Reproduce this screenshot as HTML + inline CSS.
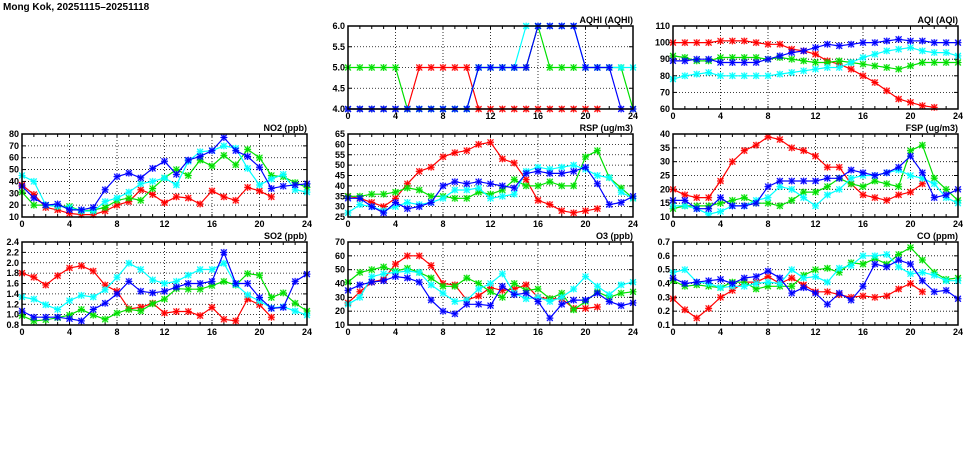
<!DOCTYPE html>
<html><head><meta charset="utf-8"><style>
body{margin:0;background:#fff;width:975px;height:447px;overflow:hidden}
svg text{font-family:"Liberation Sans",sans-serif;font-weight:bold;font-size:9px}
</style></head><body>
<svg id="c" width="975" height="447" xmlns="http://www.w3.org/2000/svg">
<text x="3" y="10" style="font-size:10px">Mong Kok, 20251115–20251118</text>
</svg>
<script>
const hours=[0,1,2,3,4,5,6,7,8,9,10,11,12,13,14,15,16,17,18,19,20,21,22,23,24];
const xTicks=[0,4,8,12,16,20,24];
const seriesColors=["#ff0000","#00e000","#00ffff","#0000ff"];
const seriesNames=["day1","day2","day3","day4"];
// AQHI
const aqhiRed=[4,4,4,4,4,4,5,5,5,5,5,4,4,4,4,4,4,4,4,4,4,4];
const aqhiGreen=[5,5,5,5,5,4,4,4,4,4,4,5,5,5,5,5,6,5,5,5,5,5,5,5,4];
const aqhiCyan=[4,4,4,4,4,4,4,4,4,4,4,5,5,5,5,6,6,6,6,6,5,5,5,5,5];
const aqhiBlue=[4,4,4,4,4,4,4,4,4,4,4,5,5,5,5,5,6,6,6,6,5,5,5,4,4];
const aqhiTicks=["4.0","4.5","5.0","5.5","6.0"];
// AQI
const aqiRed=[100,100,100,100,101,101,101,100,99,99,96,95,93,89,87,84,80,76,71,66,64,62,61];
const aqiGreen=[92,91,89,89,91,91,91,91,90,91,90,89,88,88,89,88,87,86,85,84,86,88,88,88,88];
const aqiCyan=[78,80,81,82,80,80,80,80,80,81,82,83,84,85,85,88,91,93,95,96,97,95,94,94,92];
const aqiBlue=[89,89,90,90,88,88,88,88,90,92,94,95,97,99,98,99,100,100,101,102,101,101,100,100,100];
const aqiTicks=["60","70","80","90","100","110"];
// NO2
const no2Red=[37,29,18,16,13,12,12,15,20,23,33,29,22,27,26,21,32,27,24,35,32,27];
const no2Green=[31,20,20,19,19,15,16,18,24,26,24,34,43,50,45,58,53,62,54,67,60,45,44,39,35];
const no2Cyan=[45,40,20,19,18,15,15,23,26,31,38,40,43,37,57,65,66,70,68,51,37,42,46,33,31];
const no2Blue=[36,26,20,21,16,16,18,33,44,47,43,51,57,46,58,61,66,77,66,61,52,34,36,37,38];
const no2Ticks=["10","20","30","40","50","60","70","80"];
// RSP
const rspRed=[35,34,32,30,34,41,47,49,54,56,57,60,61,53,51,43,33,31,28,27,28,29];
const rspGreen=[35,35,36,36,37,39,38,35,35,34,34,37,36,38,43,40,40,42,40,40,54,57,44,39,34];
const rspCyan=[27,31,30,28,30,32,31,32,34,38,38,39,34,35,36,47,49,48,49,50,48,45,44,37,34];
const rspBlue=[34,34,30,27,32,29,30,32,40,42,41,42,41,40,39,46,47,46,46,47,49,41,31,32,35];
const rspTicks=["25","30","35","40","45","50","55","60","65"];
// FSP
const fspRed=[20,18,17,17,23,30,34,36,39,38,35,34,32,28,28,22,18,17,16,18,19,22];
const fspGreen=[13,14,14,14,15,16,17,15,15,14,16,19,19,21,24,22,21,23,22,21,34,36,24,20,16];
const fspCyan=[14,14,13,11,12,14,14,16,17,21,20,17,14,18,20,24,25,25,26,27,25,24,22,17,15];
const fspBlue=[16,16,13,13,17,14,14,15,21,23,23,23,23,24,24,27,26,25,26,28,32,26,17,18,20];
const fspTicks=["10","15","20","25","30","35","40"];
// SO2
const so2Red=[1.8,1.72,1.57,1.75,1.9,1.94,1.84,1.57,1.45,1.11,1.14,1.22,1.03,1.06,1.06,0.98,1.14,0.91,0.88,1.3,1.19,0.95];
const so2Green=[0.98,0.88,0.9,0.94,0.99,1.1,0.99,0.91,1.03,1.1,1.07,1.21,1.3,1.5,1.49,1.49,1.56,1.64,1.57,1.79,1.76,1.33,1.42,1.22,1.07];
const so2Cyan=[1.34,1.3,1.19,1.1,1.27,1.37,1.34,1.48,1.72,1.99,1.87,1.67,1.6,1.64,1.76,1.87,1.87,1.99,1.58,1.38,1.26,1.13,1.15,1.07,0.99];
const so2Blue=[1.07,0.95,0.95,0.95,0.92,0.88,1.1,1.22,1.4,1.64,1.45,1.42,1.45,1.53,1.6,1.6,1.64,2.2,1.6,1.6,1.33,1.12,1.14,1.64,1.78];
const so2Ticks=["0.8","1.0","1.2","1.4","1.6","1.8","2.0","2.2","2.4"];
// O3
const o3Red=[26,34,41,43,54,60,60,53,40,39,28,31,37,35,36,39,30,29,29,22,22,23];
const o3Green=[41,48,50,52,49,51,48,44,38,38,44,40,34,30,40,35,36,29,33,21,27,34,30,33,34];
const o3Cyan=[25,30,45,47,48,49,48,39,33,27,28,36,40,47,33,29,30,27,30,36,45,38,32,39,41];
const o3Blue=[35,39,41,42,45,44,41,28,20,18,25,25,24,38,32,33,27,15,25,28,28,33,27,24,26];
const o3Ticks=["10","20","30","40","50","60","70"];
// CO
const coRed=[.29,.21,.15,.22,.30,.35,.41,.41,.45,.40,.44,.39,.34,.34,.32,.30,.31,.30,.31,.36,.40,.34];
const coGreen=[.42,.38,.39,.38,.37,.41,.41,.36,.38,.38,.38,.46,.50,.51,.48,.55,.54,.58,.54,.61,.66,.57,.48,.43,.44];
const coCyan=[.48,.50,.41,.40,.37,.38,.38,.40,.41,.40,.50,.44,.45,.41,.51,.53,.60,.60,.61,.52,.47,.48,.46,.42,.42];
const coBlue=[.44,.40,.41,.42,.43,.40,.44,.45,.49,.44,.33,.37,.33,.25,.33,.28,.38,.54,.52,.57,.54,.42,.34,.35,.29];
const coTicks=["0.1","0.2","0.3","0.4","0.5","0.6","0.7"];

const NS="http://www.w3.org/2000/svg";
const svg=document.getElementById('c');
function mk(tag,attrs,parent){const e=document.createElementNS(NS,tag);for(const k in attrs)e.setAttribute(k,attrs[k]);(parent||svg).appendChild(e);return e;}

const panels=[
 {name:"aqhi",title:"AQHI (AQHI)",col:1,row:0,ticks:aqhiTicks,data:[aqhiRed,aqhiGreen,aqhiCyan,aqhiBlue]},
 {name:"aqi",title:"AQI (AQI)",col:2,row:0,ticks:aqiTicks,data:[aqiRed,aqiGreen,aqiCyan,aqiBlue]},
 {name:"no2",title:"NO2 (ppb)",col:0,row:1,ticks:no2Ticks,data:[no2Red,no2Green,no2Cyan,no2Blue]},
 {name:"rsp",title:"RSP (ug/m3)",col:1,row:1,ticks:rspTicks,data:[rspRed,rspGreen,rspCyan,rspBlue]},
 {name:"fsp",title:"FSP (ug/m3)",col:2,row:1,ticks:fspTicks,data:[fspRed,fspGreen,fspCyan,fspBlue]},
 {name:"so2",title:"SO2 (ppb)",col:0,row:2,ticks:so2Ticks,data:[so2Red,so2Green,so2Cyan,so2Blue]},
 {name:"o3",title:"O3 (ppb)",col:1,row:2,ticks:o3Ticks,data:[o3Red,o3Green,o3Cyan,o3Blue]},
 {name:"co",title:"CO (ppm)",col:2,row:2,ticks:coTicks,data:[coRed,coGreen,coCyan,coBlue]}
];
const colX=[22,348,673], rowY=[26,134,242], W=285, H=83;

panels.forEach(p=>{
 const L=colX[p.col], T=rowY[p.row];
 const g=mk('g',{});
 
 
 const ymin=parseFloat(p.ticks[0]), ymax=parseFloat(p.ticks[p.ticks.length-1]);
 const xs=v=>L+v/24*W;
 const ys=v=>T+H-(v-ymin)/(ymax-ymin)*H;
 // grid
 p.ticks.forEach((t,i)=>{
  const y=ys(parseFloat(t));
  if(i>0&&i<p.ticks.length-1){const gl=mk('line',{x1:L,x2:L+W,y1:y,y2:y,stroke:'#000','stroke-width':0.8,'stroke-dasharray':'1,2'},g);
   }
  const tl=mk('text',{x:L-3,y:y+3,'text-anchor':'end'},g);tl.textContent=t;
  
  mk('line',{x1:L,x2:L+4,y1:y,y2:y,stroke:'#000'},g);
  mk('line',{x1:L+W-4,x2:L+W,y1:y,y2:y,stroke:'#000'},g);
 });
 xTicks.forEach((t,i)=>{
  const x=xs(t);
  if(i>0&&i<xTicks.length-1){const gl=mk('line',{x1:x,x2:x,y1:T,y2:T+H,stroke:'#000','stroke-width':0.8,'stroke-dasharray':'1,2'},g);
   }
  const tl=mk('text',{x:x,y:T+H+10,'text-anchor':'middle'},g);tl.textContent=t;
  
 });
 hours.forEach(h=>{const x=xs(h);mk('line',{x1:x,x2:x,y1:T+H,y2:T+H-3,stroke:'#000'},g);mk('line',{x1:x,x2:x,y1:T,y2:T+3,stroke:'#000'},g);});
 const tt=mk('text',{x:L+W,y:T-3,'text-anchor':'end'},g);tt.textContent=p.title;
 
 // series
 p.data.forEach((arr,si)=>{
  const c=seriesColors[si];
  const sg=mk('g',{},g);
  
  
  const pts=arr.map((v,i)=>xs(hours[i]).toFixed(1)+','+ys(v).toFixed(1)).join(' ');
  mk('polyline',{points:pts,fill:'none',stroke:c,'stroke-width':1.2},sg);
  arr.forEach((v,i)=>{
   const x=xs(hours[i]),y=ys(v);
   const m=mk('g',{},sg);
   
   
   mk('rect',{x:x-3,y:y-3,width:6,height:6,fill:c,opacity:0.3},m);
   mk('path',{d:`M${x-3},${y-3}L${x+3},${y+3}M${x+3},${y-3}L${x-3},${y+3}M${x},${y-3.5}L${x},${y+3.5}M${x-3.5},${y}L${x+3.5},${y}`,stroke:c,'stroke-width':1},m);
  });
 });
 const fr=mk('rect',{x:L,y:T,width:W,height:H,fill:'none',stroke:'#000','stroke-width':1.5},g);
 
});
</script>
</body></html>
